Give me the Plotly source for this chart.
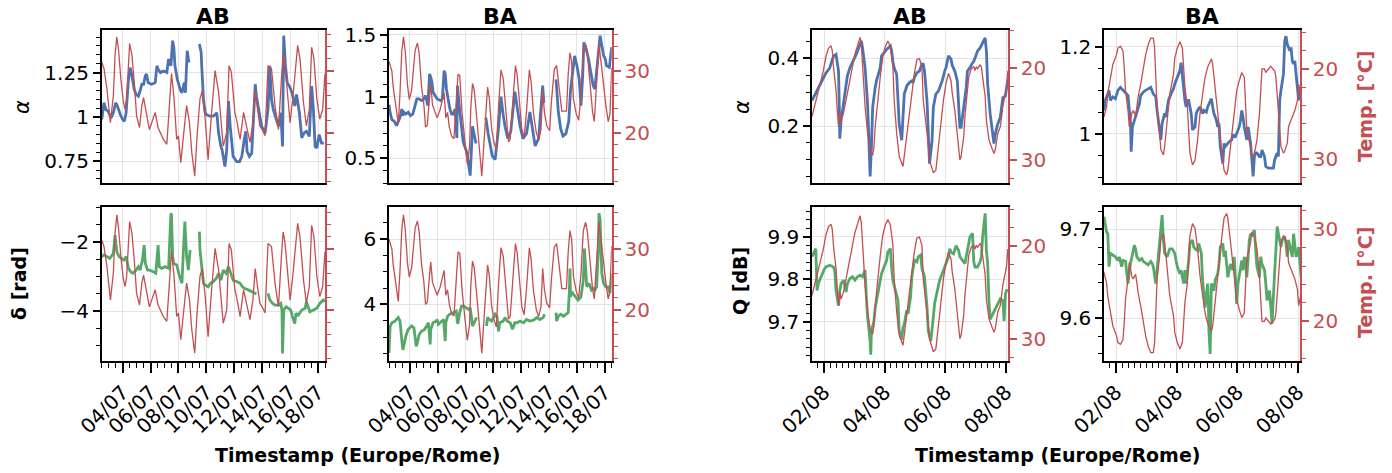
import pandas as pd
import plotly.graph_objects as go

# =========================
# Data (hours since start, value)
# =========================
JUL_START = pd.Timestamp("2023-07-02 12:00")
AUG_START = pd.Timestamp("2023-08-01 14:30")

# July campaign, link AB
jul_ab_temp = [(0, 31.5), (4, 30.4), (9, 27.1), (15, 21.6), (20, 26.0), (23, 32.6), (26, 35.6), (29, 33.4),
               (33, 28.7), (37, 25.2), (40, 23.8), (43, 25.5), (48, 34.5), (52, 32.6), (56, 28.2), (60, 22.7),
               (65, 20.8), (69, 24.4), (72, 25.7), (76, 23.8), (82, 20.5), (86, 21.6), (92, 23.3), (97, 20.8),
               (106, 18.9), (112, 18.1), (117, 26.0), (120, 29.6), (124, 26.0), (129, 18.9), (132, 19.5),
               (136, 15.1), (140, 18.9), (146, 24.4), (151, 21.6), (155, 16.7), (160, 12.9), (164, 19.5),
               (169, 25.5), (173, 26.8), (178, 22.2), (183, 15.6), (189, 23.3), (195, 30.1), (201, 26.6),
               (206, 21.6), (209, 17.8), (215, 20.0), (219, 30.9), (223, 29.8), (229, 23.3), (233, 21.6),
               (238, 18.9), (244, 23.3), (250, 20.5), (255, 18.4), (260, 21.6), (264, 26.8), (268, 23.8),
               (272, 21.1), (277, 20.3), (281, 19.5), (286, 30.9), (292, 30.4), (298, 24.4), (304, 20.5),
               (309, 28.7), (312, 32.8), (315, 31.2), (319, 26.3), (324, 21.6), (329, 26.0), (337, 34.2),
               (341, 32.0), (347, 24.9), (352, 21.1), (357, 23.8), (361, 33.9), (365, 32.0), (370, 25.5),
               (375, 22.2), (380, 23.8), (384, 29.6)]

jul_ab_alpha = [(0, 0.985), (4, 1.080), (7, 1.042), (11, 1.032), (16, 0.994), (20, 1.023), (24, 1.080),
                (27, 1.061), (32, 1.013), (36, 0.985), (39, 0.975), (42, 1.023), (46, 1.212), (49, 1.278),
                (52, 1.231), (56, 1.155), (59, 1.127), (63, 1.117), (66, 1.146), (69, 1.184), (72, 1.184),
                (75, 1.231), (77, 1.241), (80, 1.193), (86, 1.184), (92, 1.193), (95, 1.288), (97, 1.269),
                (101, 1.250), (106, 1.259), (112, 1.250), (115, 1.326), (119, 1.288), (122, 1.430),
                (124, 1.392), (126, 1.288), (130, 1.212), (135, 1.155), (138, 1.136), (142, 1.193),
                (144, 1.136), (147, 1.373), (150, 1.307), (159, None), (168, 1.411), (171, 1.364),
                (172, 1.288), (175, 1.098), (178, 1.023), (180, 1.013), (186, 1.004), (192, 1.004),
                (198, 1.023), (201, 0.909), (205, 0.833), (207, 0.814), (212, 0.720), (215, 0.814),
                (218, 1.089), (221, 0.947), (226, 0.777), (232, 0.748), (237, 0.748), (241, 0.777),
                (245, 0.871), (248, 0.919), (250, 0.805), (254, 0.777), (258, 0.795), (261, 0.966),
                (264, 1.184), (266, 1.117), (270, 1.042), (275, 0.947), (281, 0.909), (286, 1.042),
                (289, 1.288), (292, 1.098), (295, 1.042), (300, 0.985), (304, 0.947), (308, 1.023),
                (311, 0.833), (313, 1.458), (316, 1.288), (319, 1.193), (324, 1.165), (328, 1.127),
                (332, 1.061), (335, 1.127), (340, 1.023), (344, 0.881), (348, 0.909), (352, 0.919),
                (357, 0.890), (361, 1.174), (364, 1.042), (367, 0.833), (370, 0.824), (374, 0.900),
                (378, 0.852), (382, 0.852)]

jul_ab_delta = [(0, -2.43), (4, -2.38), (9, -2.43), (14, -2.48), (20, -2.34), (23, -1.81), (26, -2.29),
                (30, -2.43), (34, -2.48), (38, -2.53), (42, -2.43), (46, -2.77), (50, -2.87), (54, -2.91),
                (59, -2.82), (63, -2.72), (66, -2.82), (70, -2.53), (73, -2.10), (75, -2.63), (79, -2.82),
                (83, -2.82), (89, -2.87), (93, -2.91), (97, -2.10), (99, -2.72), (103, -2.77), (109, -2.72),
                (115, -2.77), (117, -1.86), (119, -1.18), (120, -1.23), (122, -2.43), (124, -2.63),
                (129, -2.67), (134, -3.01), (138, -3.20), (140, -2.43), (143, -1.42), (146, -2.43),
                (149, -2.82), (152, -2.24), (160, None), (168, -1.71), (169, -2.24), (175, -3.20),
                (178, -3.25), (183, -3.30), (187, -3.20), (192, -3.15), (197, -3.06), (201, -2.91),
                (205, -3.11), (209, -2.82), (214, -2.91), (218, -2.72), (221, -2.87), (223, -3.01),
                (226, -3.11), (232, -3.15), (238, -3.20), (242, -3.30), (246, -3.35), (252, -3.39),
                (258, -3.44), (264, -3.49), (266, -3.51), (276, None), (286, -3.49), (289, -3.68),
                (294, -3.78), (298, -3.83), (304, -3.83), (308, -3.78), (310, -3.97), (311, -5.22),
                (313, -3.97), (317, -3.88), (321, -3.92), (325, -3.97), (328, -4.16), (332, -4.36),
                (334, -4.07), (338, -4.12), (344, -3.97), (350, -3.92), (352, -3.73), (358, -4.02),
                (364, -3.97), (370, -3.92), (375, -3.78), (381, -3.68), (384, -3.73)]

# July campaign, link BA
jul_ba_temp = [(0, 31.6), (5, 30.0), (7, 27.6), (12, 23.9), (16, 21.4), (19, 26.5), (22, 33.2), (25, 35.6),
               (28, 33.2), (32, 27.6), (35, 25.4), (39, 26.9), (45, 33.4), (49, 34.6), (52, 32.9), (56, 27.6),
               (60, 24.7), (63, 20.9), (66, 21.2), (70, 25.8), (72, 27.9), (75, 24.5), (79, 23.3), (83, 22.4),
               (88, 23.7), (92, 25.4), (95, 26.5), (98, 22.4), (101, 23.3), (104, 20.9), (108, 19.4),
               (112, 19.0), (116, 24.3), (119, 29.5), (122, 29.3), (126, 23.2), (131, 18.5), (135, 15.0),
               (139, 17.7), (141, 23.9), (144, 28.0), (147, 26.9), (151, 22.7), (156, 17.3), (160, 12.9),
               (163, 17.3), (166, 21.9), (170, 27.4), (173, 25.6), (177, 20.6), (181, 18.4), (185, 17.2),
               (189, 24.4), (193, 30.2), (197, 28.8), (202, 22.3), (206, 18.5), (209, 18.9), (214, 25.4),
               (218, 30.9), (221, 29.4), (226, 23.2), (229, 20.5), (233, 19.2), (237, 23.3), (242, 30.2),
               (245, 28.3), (249, 23.2), (254, 20.0), (258, 18.9), (262, 20.5), (265, 26.8), (268, 23.3),
               (272, 21.1), (277, 20.3), (280, 25.0), (285, 30.3), (289, 30.9), (294, 26.2), (298, 23.5),
               (302, 23.5), (306, 23.5), (309, 29.5), (312, 33.0), (315, 31.5), (318, 25.5), (323, 23.0),
               (327, 22.0), (331, 25.9), (335, 33.0), (339, 34.4), (342, 32.9), (347, 27.6), (351, 23.4),
               (354, 21.8), (358, 27.3), (362, 34.4), (365, 32.0), (370, 27.6), (374, 24.4), (378, 21.8),
               (381, 23.0), (384, 30.5)]

jul_ba_alpha = [(0, 0.935), (2, 0.868), (5, 0.814), (9, 0.800), (13, 0.765), (16, 0.792), (19, 0.832),
                (22, 0.900), (24, 0.846), (26, 0.873), (29, 0.859), (33, 0.873), (37, 0.846), (41, 0.859),
                (45, 0.927), (48, 0.981), (52, 0.981), (56, 0.968), (60, 0.981), (63, 1.008), (67, 0.927),
                (70, 1.184), (72, 1.157), (74, 1.116), (76, 1.035), (79, 1.008), (83, 0.981), (89, 0.968),
                (92, 0.981), (95, 1.211), (97, 1.184), (99, 1.062), (102, 0.981), (105, 0.900), (108, 0.859),
                (111, 0.859), (114, 0.900), (117, 0.665), (118, 1.089), (121, 0.930), (128, 0.63),
                (134, 0.55), (140, 0.36), (144, 0.76), (150, 0.62), (159, None), (167, 0.83), (171, 0.70),
                (178, 0.52), (183, 0.49), (189, 0.75), (193, 1.00), (197, 0.85), (200, 0.76), (205, 0.66),
                (210, 0.72), (217, 1.04), (221, 0.90), (226, 0.76), (231, 0.66), (237, 0.70), (243, 0.875),
                (247, 0.76), (252, 0.60), (258, 0.66), (265, 1.09), (267, 0.95), (278, None), (288, 1.14),
                (292, 0.875), (296, 0.74), (300, 0.68), (305, 0.70), (310, 0.80), (313, 1.05), (316, 1.17),
                (320, 1.33), (324, 1.251), (328, 1.143), (331, 0.927), (334, 1.170), (336, 1.440),
                (340, 1.386), (344, 1.305), (348, 1.197), (352, 1.089), (355, 1.062), (358, 1.224),
                (361, 1.386), (364, 1.494), (367, 1.413), (370, 1.332), (373, 1.305), (375, 1.251),
                (380, 1.238), (383, 1.359), (384, 1.400)]

jul_ba_delta = [(0, 2.52), (2, 3.34), (5, 3.44), (10, 3.49), (16, 3.60), (19, 3.49), (22, 2.92), (24, 2.61),
                (26, 2.77), (29, 3.03), (33, 3.23), (39, 3.34), (43, 3.28), (47, 2.72), (49, 2.83), (52, 3.08),
                (56, 3.18), (61, 3.23), (65, 3.34), (68, 3.44), (71, 2.78), (72, 3.23), (76, 3.44), (81, 3.49),
                (83, 3.54), (85, 3.39), (88, 3.44), (91, 3.49), (94, 3.54), (97, 2.88), (98, 3.44),
                (101, 3.64), (105, 3.70), (111, 3.75), (116, 3.80), (118, 3.42), (119, 3.44), (122, 3.75),
                (125, 3.95), (129, 3.95), (134, 3.90), (137, 3.85), (140, 3.90), (143, 3.54), (144, 3.34),
                (147, 3.44), (151, 3.60), (160, None), (168, 3.34), (170, 3.60), (173, 3.54), (177, 3.49),
                (180, 3.60), (183, 3.70), (186, 3.64), (189, 3.18), (191, 3.44), (197, 3.49), (200, 3.60),
                (204, 3.49), (209, 3.44), (213, 3.24), (217, 3.44), (221, 3.44), (226, 3.49), (232, 3.44),
                (237, 3.54), (243, 3.49), (249, 3.52), (255, 3.60), (260, 3.54), (266, 3.60), (268, 3.70),
                (278, None), (288, 3.75), (289, 3.49), (292, 3.64), (296, 3.70), (301, 3.64), (305, 3.70),
                (309, 3.75), (311, 4.39), (312, 5.10), (313, 4.23), (315, 4.39), (319, 4.29), (322, 4.23),
                (326, 4.13), (331, 4.23), (335, 4.74), (337, 5.71), (339, 4.95), (341, 4.54), (345, 4.64),
                (349, 4.44), (352, 4.49), (355, 4.44), (358, 4.54), (361, 5.66), (362, 6.79), (364, 6.59),
                (365, 5.98), (367, 4.95), (370, 4.64), (374, 4.54), (378, 4.54), (381, 4.34), (384, 4.95)]

# August campaign, link AB
aug_ab_temp = [(0, 25.3), (2, 24.2), (4, 23.1), (6, 21.7), (9, 20.3), (11, 18.8), (13, 17.9), (15, 17.6),
               (16, 18.1), (17, 19.9), (19, 22.4), (20, 24.6), (21, 26.4), (22, 24.9), (23, 25.7), (25, 24.9),
               (26, 24.2), (28, 22.8), (30, 21.4), (32, 19.9), (34, 18.5), (36, 17.6), (38, 16.7), (39, 17.4),
               (40, 19.9), (42, 24.2), (44, 27.1), (46, 28.9), (48, 29.5), (49, 28.6), (50, 26.4), (52, 23.5),
               (54, 21.0), (56, 18.8), (58, 17.7), (60, 17.1), (62, 17.7), (64, 19.9), (65, 23.5), (67, 27.1),
               (69, 29.6), (72, 30.7), (73, 29.6), (75, 27.1), (77, 24.6), (79, 22.4), (81, 20.6), (83, 19.1),
               (85, 19.0), (87, 19.9), (88, 23.5), (91, 27.1), (93, 30.0), (96, 31.4), (98, 31.1), (100, 28.6),
               (102, 26.0), (104, 23.5), (106, 21.7), (108, 20.6), (110, 21.4), (111, 22.8), (113, 24.6),
               (115, 27.1), (117, 30.0), (118, 29.6), (120, 27.5), (121, 25.3), (123, 22.8), (124, 21.0),
               (126, 20.1), (128, 19.9), (129, 20.3), (130, 19.9), (131, 20.1), (133, 19.7), (134, 19.9),
               (135, 21.0), (137, 23.1), (138, 25.7), (140, 27.8), (142, 28.6), (144, 29.3), (145, 28.9),
               (147, 27.1), (149, 26.4), (151, 24.2), (153, 22.8), (154, 22.1), (155, 20.3)]

aug_ab_alpha = [(0, 0.275), (2, 0.289), (4, 0.303), (6, 0.318), (9, 0.342), (11, 0.356), (14, 0.371),
                (16, 0.391), (17, 0.406), (19, 0.411), (21, 0.362), (21.5, 0.274), (22, 0.163), (23, 0.216),
                (25, 0.265), (26, 0.294), (28, 0.348), (30, 0.372), (32, 0.387), (34, 0.401), (35, 0.411),
                (37, 0.430), (39, 0.451), (40, 0.430), (42, 0.372), (44, 0.264), (45, 0.157), (46, 0.051),
                (47, 0.138), (48, 0.255), (50, 0.313), (51, 0.333), (54, 0.372), (55, 0.406), (56, 0.411),
                (58, 0.421), (59, 0.426), (62, 0.436), (63, 0.421), (64, 0.391), (65, 0.372), (67, 0.352),
                (68, 0.284), (69, 0.206), (71, 0.158), (72, 0.255), (73, 0.294), (75, 0.318), (77, 0.328),
                (79, 0.333), (80, 0.328), (81, 0.343), (83, 0.357), (85, 0.362), (87, 0.382), (88, 0.382),
                (89, 0.362), (91, 0.274), (92, 0.157), (93, 0.089), (95, 0.157), (96, 0.255), (98, 0.294),
                (100, 0.303), (101, 0.313), (103, 0.333), (105, 0.362), (106, 0.372), (108, 0.407),
                (110, 0.397), (111, 0.378), (113, 0.362), (115, 0.333), (116, 0.265), (117, 0.196),
                (118, 0.196), (120, 0.255), (122, 0.313), (123, 0.362), (125, 0.372), (127, 0.386),
                (128, 0.391), (130, 0.411), (131, 0.421), (133, 0.430), (135, 0.445), (137, 0.460),
                (138, 0.421), (139, 0.323), (141, 0.235), (143, 0.167), (144, 0.148), (145, 0.177),
                (147, 0.206), (149, 0.226), (150, 0.265), (151, 0.284), (153, 0.289), (154, 0.313),
                (155, 0.338)]

aug_ab_q = [(0, 9.853), (1, 9.861), (3, 9.872), (4, 9.774), (5, 9.790), (7, 9.805), (9, 9.821), (10, 9.825),
            (11, 9.829), (14, 9.833), (17, 9.829), (18, 9.821), (19, 9.774), (21, 9.738), (22, 9.774),
            (23, 9.790), (25, 9.798), (27, 9.770), (28, 9.790), (30, 9.802), (32, 9.806), (34, 9.798),
            (36, 9.806), (38, 9.810), (40, 9.806), (42, 9.822), (43, 9.759), (44, 9.711), (46, 9.655),
            (46.5, 9.623), (47, 9.678), (49, 9.702), (50, 9.733), (52, 9.765), (54, 9.797), (55, 9.813),
            (57, 9.829), (59, 9.844), (60, 9.864), (62, 9.872), (63, 9.829), (64, 9.797), (66, 9.774),
            (68, 9.751), (69, 9.679), (71, 9.659), (72, 9.687), (73, 9.695), (75, 9.727), (76, 9.719),
            (78, 9.759), (79, 9.806), (81, 9.845), (83, 9.841), (84, 9.853), (86, 9.857), (87, 9.826),
            (89, 9.806), (91, 9.735), (92, 9.679), (94, 9.655), (95, 9.679), (96, 9.711), (97, 9.743),
            (99, 9.774), (101, 9.798), (103, 9.813), (104, 9.821), (106, 9.837), (108, 9.853), (109, 9.872),
            (110, 9.864), (112, 9.860), (114, 9.879), (116, 9.868), (117, 9.853), (119, 9.845), (121, 9.837),
            (123, 9.868), (125, 9.900), (127, 9.908), (128, 9.841), (129, 9.829), (131, 9.829), (133, 9.841),
            (134, 9.853), (135, 9.900), (137, 9.955), (138, 9.868), (139, 9.837), (140, 9.749), (141, 9.706),
            (143, 9.718), (145, 9.730), (146, 9.734), (147, 9.742), (149, 9.754), (151, 9.750), (152, 9.702),
            (153, 9.765), (154, 9.774), (155, 9.774)]

# August campaign, link BA
aug_ba_temp = [(0, 25.3), (2, 24.2), (3, 22.7), (5, 20.9), (7, 19.5), (10, 18.4), (11, 17.7), (13, 17.5),
               (15, 18.0), (16, 19.8), (17, 22.4), (19, 24.6), (20, 26.4), (21, 25.7), (22, 24.9), (23, 24.6),
               (25, 25.1), (26, 24.2), (27, 23.1), (29, 21.7), (31, 19.9), (33, 18.4), (35, 17.3), (37, 16.6),
               (39, 16.6), (40, 17.6), (41, 20.9), (42, 24.6), (44, 27.1), (45, 28.9), (47, 29.5), (48, 28.6),
               (50, 25.7), (52, 22.8), (55, 20.6), (56, 18.8), (58, 17.7), (60, 17.0), (62, 17.7), (63, 19.9),
               (64, 22.0), (66, 24.2), (67, 27.1), (68, 29.3), (70, 30.6), (72, 30.1), (74, 27.9), (76, 24.9),
               (78, 22.8), (80, 20.9), (82, 19.8), (84, 19.1), (85, 18.9), (86, 19.5), (87, 20.9), (89, 23.5),
               (91, 26.4), (93, 28.9), (95, 31.2), (97, 31.7), (98, 31.2), (100, 28.6), (102, 26.0),
               (104, 23.9), (105, 22.4), (107, 21.3), (109, 20.4), (111, 20.9), (112, 23.5), (113, 26.8),
               (116, 28.6), (117, 29.7), (119, 29.3), (120, 28.6), (121, 27.9), (123, 24.9), (124, 21.7),
               (125, 20.0), (127, 20.0), (128, 20.4), (129, 20.2), (131, 19.9), (132, 19.7), (133, 19.9),
               (135, 20.2), (136, 20.9), (137, 23.1), (139, 26.4), (140, 28.6), (142, 29.3), (143, 29.1),
               (145, 28.2), (146, 26.4), (147, 26.0), (149, 25.3), (151, 24.6), (153, 23.5), (154, 21.7),
               (156, 23.1)]

aug_ba_alpha = [(0, 1.054), (1, 1.077), (3, 1.092), (4, 1.100), (5, 1.077), (7, 1.085), (9, 1.081),
                (11, 1.100), (13, 1.107), (14, 1.104), (15, 1.100), (17, 1.096), (19, 1.088), (21, 1.024),
                (21.5, 0.959), (22.5, 1.016), (24, 1.031), (26, 1.054), (28, 1.069), (29, 1.088), (31, 1.096),
                (33, 1.100), (35, 1.104), (37, 1.107), (39, 1.092), (41, 1.085), (42, 1.054), (44, 1.009),
                (45, 0.986), (46, 1.024), (48, 1.047), (49, 1.039), (51, 1.077), (53, 1.092), (55, 1.104),
                (56, 1.115), (58, 1.130), (60, 1.145), (61, 1.164), (62, 1.130), (64, 1.077), (65, 1.062),
                (66, 1.077), (67, 1.077), (69, 1.047), (70, 1.009), (72, 1.016), (73, 1.047), (74, 1.054),
                (76, 1.062), (78, 1.047), (79, 1.054), (81, 1.050), (82, 1.062), (84, 1.073), (85, 1.081),
                (86, 1.062), (87, 1.047), (89, 1.031), (90, 1.016), (91, 1.024), (92, 0.971), (94, 0.932),
                (95, 0.978), (96, 0.971), (98, 0.978), (99, 0.982), (101, 0.986), (102, 0.997), (104, 0.994),
                (105, 1.001), (107, 1.016), (108, 1.031), (109, 1.054), (110, 1.039), (111, 1.016),
                (113, 0.986), (114, 1.016), (116, 0.978), (117, 0.948), (118, 0.902), (119, 0.948),
                (120, 0.956), (121, 0.956), (123, 0.948), (124, 0.948), (125, 0.963), (127, 0.948),
                (128, 0.925), (130, 0.921), (132, 0.921), (134, 0.921), (135, 0.940), (137, 0.956),
                (138, 0.948), (139, 1.077), (140, 1.100), (142, 1.138), (143, 1.214), (144, 1.225),
                (145, 1.206), (146, 1.199), (147, 1.191), (148, 1.199), (149, 1.168), (150, 1.161),
                (151, 1.168), (153, 1.107), (154, 1.077), (155, 1.107), (156, 1.100)]

aug_ba_q = [(0, 9.714), (1, 9.703), (2, 9.697), (3, 9.695), (4, 9.658), (5, 9.673), (7, 9.671), (9, 9.669),
            (11, 9.665), (12, 9.669), (14, 9.658), (15, 9.665), (17, 9.664), (19, 9.639), (20, 9.652),
            (21, 9.662), (23, 9.675), (24, 9.682), (25, 9.678), (26, 9.669), (28, 9.665), (30, 9.667),
            (31, 9.664), (33, 9.662), (35, 9.660), (37, 9.664), (38, 9.662), (39, 9.658), (41, 9.639),
            (42, 9.654), (43, 9.669), (45, 9.695), (46, 9.716), (47, 9.688), (48, 9.673), (50, 9.669),
            (52, 9.678), (54, 9.678), (56, 9.673), (57, 9.665), (58, 9.658), (60, 9.650), (61, 9.654),
            (63, 9.639), (64, 9.654), (65, 9.639), (66, 9.650), (67, 9.665), (68, 9.684), (70, 9.688),
            (71, 9.680), (72, 9.678), (74, 9.676), (75, 9.684), (77, 9.673), (78, 9.643), (80, 9.612),
            (81, 9.631), (82, 9.639), (82.5, 9.624), (83, 9.586), (84, 9.560), (84.5, 9.612), (85, 9.639),
            (87, 9.631), (88, 9.643), (90, 9.650), (91, 9.661), (92, 9.680), (94, 9.684), (95, 9.669),
            (96, 9.676), (98, 9.646), (99, 9.654), (100, 9.661), (102, 9.654), (103, 9.669), (104, 9.646),
            (105, 9.616), (106, 9.639), (108, 9.654), (109, 9.665), (110, 9.654), (111, 9.669), (112, 9.665),
            (113, 9.646), (115, 9.688), (116, 9.695), (117, 9.692), (119, 9.699), (120, 9.677), (121, 9.658),
            (123, 9.646), (124, 9.669), (125, 9.661), (127, 9.654), (128, 9.639), (129, 9.620), (131, 9.631),
            (132, 9.609), (133, 9.594), (134, 9.624), (135, 9.654), (136, 9.676), (137, 9.703), (138, 9.695),
            (140, 9.680), (141, 9.688), (143, 9.692), (144, 9.684), (145, 9.669), (146, 9.688), (148, 9.673),
            (149, 9.669), (150, 9.695), (152, 9.669), (153, 9.673), (154, 9.680), (156, 9.646)]

# =========================
# Style
# =========================
W, H = 1392, 473
BLUE, GREEN, RED = "#4c72b0", "#55a868", "#c44e52"
GRID = "#e3e3e3"
FONT = "DejaVu Sans"
DAY = 86400000

JUL_RANGE = ["2023-07-02 12:00", "2023-07-18 12:00"]
AUG_RANGE = ["2023-08-01 14:30", "2023-08-08 01:35"]

cols = {1: (101.7, 325), 2: (389, 611.7), 3: (812, 1008), 4: (1104, 1300)}
rows = {1: (30, 183), 2: (207, 361)}

panels = [
    dict(col=1, row=1, data=jul_ab_alpha, color=BLUE, temp=jul_ab_temp, t0=JUL_START,
         yr=[0.627, 1.49], dt=0.25, mdt=0.05, tr=[11.8, 36.7], tlab=False),
    dict(col=2, row=1, data=jul_ba_alpha, color=BLUE, temp=jul_ba_temp, t0=JUL_START,
         yr=[0.30, 1.54], dt=0.5, mdt=0.1, tr=[11.8, 36.7], tlab=True),
    dict(col=3, row=1, data=aug_ab_alpha, color=BLUE, temp=aug_ab_temp, t0=AUG_START,
         yr=[0.032, 0.483], dt=0.2, mdt=0.05, tr=[32.5, 15.9], tlab=True),
    dict(col=4, row=1, data=aug_ba_alpha, color=BLUE, temp=aug_ba_temp, t0=AUG_START,
         yr=[0.887, 1.239], dt=0.2, mdt=0.05, tr=[32.6, 15.7], tlab=True),
    dict(col=1, row=2, data=jul_ab_delta, color=GREEN, temp=jul_ab_temp, t0=JUL_START,
         yr=[-5.44, -1.0], dt=2, mdt=0.5, tr=[11.6, 36.9], tlab=False),
    dict(col=2, row=2, data=jul_ba_delta, color=GREEN, temp=jul_ba_temp, t0=JUL_START,
         yr=[2.27, 6.98], dt=2, mdt=0.5, tr=[11.6, 36.9], tlab=True),
    dict(col=3, row=2, data=aug_ab_q, color=GREEN, temp=aug_ab_temp, t0=AUG_START,
         yr=[9.608, 9.97], dt=0.1, mdt=0.02, tr=[32.4, 15.75], tlab=True),
    dict(col=4, row=2, data=aug_ba_q, color=GREEN, temp=aug_ba_temp, t0=AUG_START,
         yr=[9.552, 9.725], dt=0.1, mdt=0.02, tr=[15.7, 32.4], tlab=True),
]


def to_xy(pairs, t0):
    xs = [t0 + pd.Timedelta(hours=h) for h, _ in pairs]
    ys = [v for _, v in pairs]
    return xs, ys


fig = go.Figure()
layout = {}

for i, p in enumerate(panels, start=1):
    sx = "" if i == 1 else str(i)
    ti = str(i + 8)
    x0, x1 = cols[p["col"]]
    y0, y1 = rows[p["row"]]
    bottom = p["row"] == 2
    july = p["col"] <= 2

    xs, ys = to_xy(p["data"], p["t0"])
    fig.add_trace(go.Scatter(x=xs, y=ys, mode="lines", line=dict(color=p["color"], width=2.8),
                             xaxis="x" + sx, yaxis="y" + sx, connectgaps=False, showlegend=False))
    xs, ys = to_xy(p["temp"], p["t0"])
    fig.add_trace(go.Scatter(x=xs, y=ys, mode="lines", line=dict(color=RED, width=1.3),
                             xaxis="x" + sx, yaxis="y" + ti, showlegend=False))

    tick0 = "2023-07-02" if july else "2023-08-02"
    minor_dt = DAY / 2 if july else DAY * 0.2
    layout["xaxis" + sx] = dict(
        domain=[x0 / W, x1 / W], anchor="y" + sx, type="date",
        range=JUL_RANGE if july else AUG_RANGE,
        showline=True, mirror=True, linecolor="black", linewidth=1.6,
        showgrid=True, gridcolor=GRID, gridwidth=1, zeroline=False,
        ticks="outside" if bottom else "", ticklen=10, tickwidth=1.5, tickcolor="black",
        showticklabels=bottom, tickformat="%d/%m", dtick=2 * DAY, tick0=tick0, tickangle=-45,
        tickfont=dict(size=20, color="black"),
        minor=dict(ticks="outside" if bottom else "", dtick=minor_dt, tick0=tick0, ticklen=5,
                   tickwidth=1.3, tickcolor="black", showgrid=False),
        automargin=False,
    )
    layout["yaxis" + sx] = dict(
        domain=[1 - y1 / H, 1 - y0 / H], anchor="x" + sx, range=p["yr"], dtick=p["dt"], tick0=0,
        showline=True, linecolor="black", linewidth=1.6,
        showgrid=True, gridcolor=GRID, zeroline=False,
        ticks="outside", ticklen=7, tickwidth=1.5, tickcolor="black",
        tickfont=dict(size=20, color="black"),
        minor=dict(ticks="outside", dtick=p["mdt"], ticklen=4, tickwidth=1.3, tickcolor="black",
                   showgrid=False),
        automargin=False,
    )
    layout["yaxis" + ti] = dict(
        overlaying="y" + sx, anchor="x" + sx, side="right", range=p["tr"], dtick=10, tick0=0,
        showline=True, linecolor=RED, linewidth=1.6, showgrid=False, zeroline=False,
        ticks="outside", ticklen=7, tickwidth=1.5, tickcolor=RED,
        showticklabels=p["tlab"], tickfont=dict(size=20, color=RED),
        minor=dict(ticks="outside", dtick=2, ticklen=4, tickwidth=1.3, tickcolor=RED),
        automargin=False,
    )


def ann(text, px, py, size=19, color="black", angle=0):
    return dict(text=text, x=px / W, y=1 - py / H, xref="paper", yref="paper", showarrow=False,
                xanchor="center", yanchor="middle", textangle=angle,
                font=dict(family=FONT, size=size, color=color))


annotations = [
    ann("<b>AB</b>", 213, 16, size=22),
    ann("<b>BA</b>", 500, 16, size=22),
    ann("<b>AB</b>", 910, 16, size=22),
    ann("<b>BA</b>", 1202, 16, size=22),
    ann("<i>α</i>", 22, 107, size=21, angle=-90),
    ann("<b>δ [rad]</b>", 19, 284, angle=-90),
    ann("<i>α</i>", 742, 107, size=21, angle=-90),
    ann("<b>Q [dB]</b>", 740, 281, angle=-90),
    ann("<b>Temp. [°C]</b>", 1365, 107, color=RED, angle=-90),
    ann("<b>Temp. [°C]</b>", 1365, 283, color=RED, angle=-90),
    ann("<b>Timestamp (Europe/Rome)</b>", 357, 455),
    ann("<b>Timestamp (Europe/Rome)</b>", 1057, 455),
]

fig.update_layout(
    width=W, height=H,
    margin=dict(l=0, r=0, t=0, b=0),
    paper_bgcolor="white", plot_bgcolor="white",
    font=dict(family=FONT, size=19, color="black"),
    showlegend=False,
    hovermode=False,
    annotations=annotations,
    **layout,
)

# the page body has a default margin; drop it so the figure sits at the window origin
fig.write_html("out.html", config={"displayModeBar": False},
               post_script="document.body.style.margin = '0';")
